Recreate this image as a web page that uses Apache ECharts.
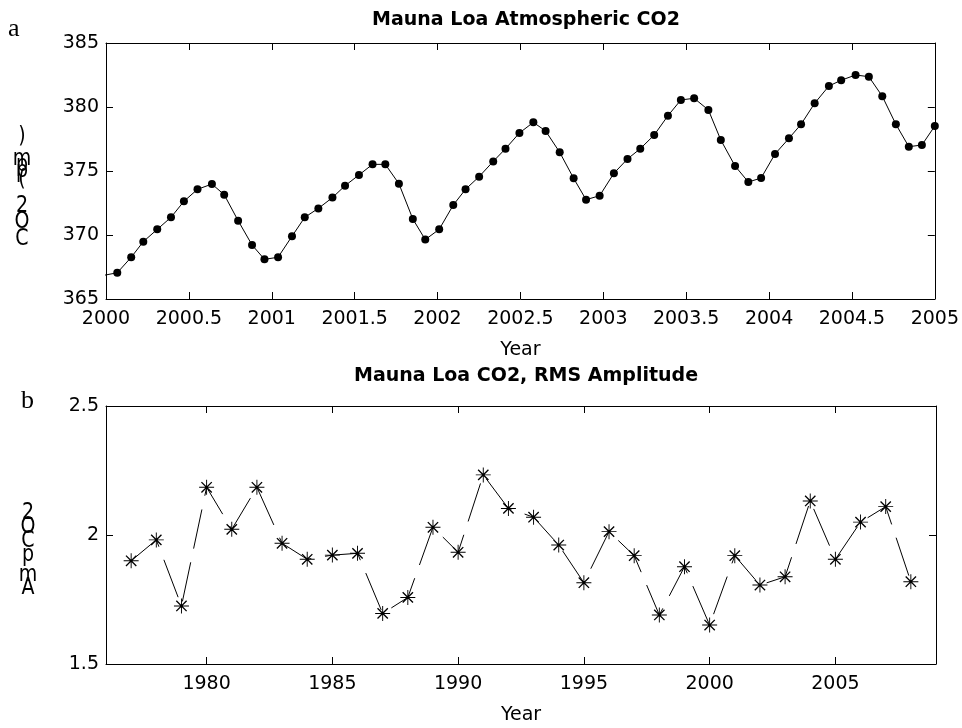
<!DOCTYPE html>
<html>
<head>
<meta charset="UTF-8">
<title>Mauna Loa CO2</title>
<script src="https://cdn.jsdelivr.net/npm/echarts@6/dist/echarts.min.js"></script>
<style>
  html, body { margin: 0; padding: 0; background: #fff; }
  #main { width: 962px; height: 728px; }
</style>
</head>
<body>
<div id="main"></div>
<script type="text/javascript">
// panel a: monthly CO2 (ppm), decimal year
// first point sits just left of 2000, only its line shows
var co2Years = [
  1999.987, 2000.068, 2000.152, 2000.225, 2000.309, 2000.392, 2000.470, 2000.552, 2000.639, 2000.713,
  2000.797, 2000.881, 2000.956, 2001.038, 2001.122, 2001.199, 2001.281, 2001.366, 2001.442, 2001.526,
  2001.608, 2001.685, 2001.767, 2001.851, 2001.926, 2002.010, 2002.095, 2002.169, 2002.251, 2002.336,
  2002.410, 2002.494, 2002.578, 2002.652, 2002.737, 2002.821, 2002.896, 2002.978, 2003.064, 2003.146,
  2003.223, 2003.307, 2003.390, 2003.468, 2003.548, 2003.634, 2003.709, 2003.795, 2003.875, 2003.952,
  2004.036, 2004.120, 2004.193, 2004.275, 2004.361, 2004.435, 2004.522, 2004.602, 2004.683, 2004.765,
  2004.843, 2004.922, 2005.0
];
var co2Values = [
  366.85, 367.05, 368.26, 369.48, 370.44, 371.38, 372.63, 373.57, 373.98, 373.15,
  371.12, 369.22, 368.10, 368.26, 369.90, 371.38, 372.08, 372.92, 373.85, 374.69,
  375.52, 375.52, 374.01, 371.25, 369.64, 370.44, 372.34, 373.57, 374.56, 375.75,
  376.74, 377.97, 378.80, 378.13, 376.46, 374.43, 372.76, 373.07, 374.82, 375.94,
  376.74, 377.81, 379.32, 380.55, 380.68, 379.77, 377.42, 375.39, 374.14, 374.45,
  376.33, 377.55, 378.65, 380.29, 381.64, 382.09, 382.50, 382.37, 380.84, 378.65,
  376.90, 377.03, 378.52
];

// panel b: yearly RMS amplitude
var ampYears = [
  1977, 1978, 1979, 1980, 1981, 1982, 1983, 1984, 1985, 1986, 1987,
  1988, 1989, 1990, 1991, 1992, 1993, 1994, 1995, 1996, 1997, 1998,
  1999, 2000, 2001, 2002, 2003, 2004, 2005, 2006, 2007, 2008
];
var ampValues = [
  1.900, 1.981, 1.725, 2.185, 2.022, 2.185, 1.968, 1.906, 1.922, 1.929, 1.696,
  1.758, 2.030, 1.933, 2.233, 2.103, 2.069, 1.961, 1.815, 2.013, 1.920, 1.690,
  1.877, 1.651, 1.920, 1.806, 1.838, 2.132, 1.906, 2.050, 2.110, 1.819
];
var ampTicks = [1980, 1985, 1990, 1995, 2000, 2005];

var co2Data = co2Years.map(function (x, i) { return [x, co2Values[i]]; });
var ampData = ampYears.map(function (x, i) { return [x, ampValues[i]]; });

var FONT = '"DejaVu Sans", sans-serif';
var labelStyle = { color: '#000', fontSize: 19, fontFamily: FONT };

// asterisk marker (+ and x arms)
var starPath = 'path://M15,0L17,0L17,32L15,32Z M0,15L32,15L32,17L0,17Z ' +
  'M4,6L6,4L28,26L26,28Z M26,4L28,6L6,28L4,26Z';

// plain numbers, no thousands separator
function plain(v) { return String(v); }

function xAxisBox(gridIndex, opts, show) {
  var a = {
    type: 'value',
    gridIndex: gridIndex,
    position: show ? 'bottom' : 'top',
    min: opts.min,
    max: opts.max,
    axisLine: { show: true, onZero: false, lineStyle: { color: '#000', width: 1 } },
    axisTick: { show: true, inside: true, length: 7, lineStyle: { color: '#000' } },
    axisLabel: { show: show, margin: 11, color: '#000', fontSize: 19, fontFamily: FONT, formatter: plain },
    splitLine: { show: false }
  };
  if (opts.interval) a.interval = opts.interval;
  if (opts.ticks) {
    a.axisTick.customValues = opts.ticks;
    a.axisLabel.customValues = opts.ticks;
  }
  if (show) {
    a.name = 'Year';
    a.nameLocation = 'middle';
    a.nameGap = 42;
    a.nameTextStyle = labelStyle;
  }
  return a;
}

function yAxisBox(gridIndex, opts, show) {
  return {
    type: 'value',
    gridIndex: gridIndex,
    position: show ? 'left' : 'right',
    min: opts.min,
    max: opts.max,
    interval: opts.interval,
    axisLine: { show: true, onZero: false, lineStyle: { color: '#000', width: 1 } },
    axisTick: { show: true, inside: true, length: 7, lineStyle: { color: '#000' } },
    axisLabel: { show: show, margin: 7, color: '#000', fontSize: 19, fontFamily: FONT, formatter: plain },
    splitLine: { show: false }
  };
}

// the y titles came out as stacked upright letters
function stackedText(chars, ys, x) {
  return chars.map(function (c, i) {
    return {
      type: 'text', x: x, y: ys[i], scaleY: 1.25,
      style: { text: c, font: '19px ' + FONT, fill: '#000', align: 'center', verticalAlign: 'middle' }
    };
  });
}

var myChart = echarts.init(document.getElementById('main'));

var topX = { min: 2000, max: 2005, interval: 0.5 };
var topY = { min: 365, max: 385, interval: 5 };
var botX = { min: 1976, max: 2009, ticks: ampTicks };
var botY = { min: 1.5, max: 2.5, interval: 0.5 };

var option = {
  backgroundColor: '#fff',
  animation: false,
  title: [
    { text: 'Mauna Loa Atmospheric CO2', left: 521, top: 6, textAlign: 'center',
      textStyle: { color: '#000', fontSize: 19, fontWeight: 'bold', fontFamily: FONT } },
    { text: 'Mauna Loa CO2, RMS Amplitude', left: 521, top: 362, textAlign: 'center',
      textStyle: { color: '#000', fontSize: 19, fontWeight: 'bold', fontFamily: FONT } }
  ],
  grid: [
    { left: 106, top: 43, width: 830, height: 256 },
    { left: 106, top: 406, width: 830, height: 258 }
  ],
  xAxis: [
    xAxisBox(0, topX, true), xAxisBox(0, topX, false),
    xAxisBox(1, botX, true), xAxisBox(1, botX, false)
  ],
  yAxis: [
    yAxisBox(0, topY, true), yAxisBox(0, topY, false),
    yAxisBox(1, botY, true), yAxisBox(1, botY, false)
  ],
  series: [
    {
      type: 'line',
      xAxisIndex: 0, yAxisIndex: 0,
      data: co2Data,
      clip: true,
      symbol: 'circle',
      symbolSize: 8,
      itemStyle: { color: '#000' },
      lineStyle: { color: '#000', width: 1 },
      emphasis: { disabled: true }
    },
    {
      type: 'line',
      xAxisIndex: 2, yAxisIndex: 2,
      data: ampData,
      symbol: starPath,
      symbolSize: 15,
      itemStyle: { color: '#000' },
      lineStyle: { color: '#000', width: 1, type: [40, 14] },
      emphasis: { disabled: true }
    }
  ],
  graphic: [
    { type: 'text', x: 8, y: 16,
      style: { text: 'a', font: '26px "Liberation Serif", serif', fill: '#000' } },
    { type: 'text', x: 21, y: 388,
      style: { text: 'b', font: '26px "Liberation Serif", serif', fill: '#000' } }
  ]
    .concat(stackedText([')', 'm', 'p', 'p', '(', '2', 'O', 'C'],
                        [137, 159, 165, 171, 180, 206, 222, 239], 22))
    .concat(stackedText(['2', 'O', 'C', 'p', 'm', 'A'],
                        [513, 527, 541, 555, 575, 588], 28))
};

myChart.setOption(option);
</script>
</body>
</html>
